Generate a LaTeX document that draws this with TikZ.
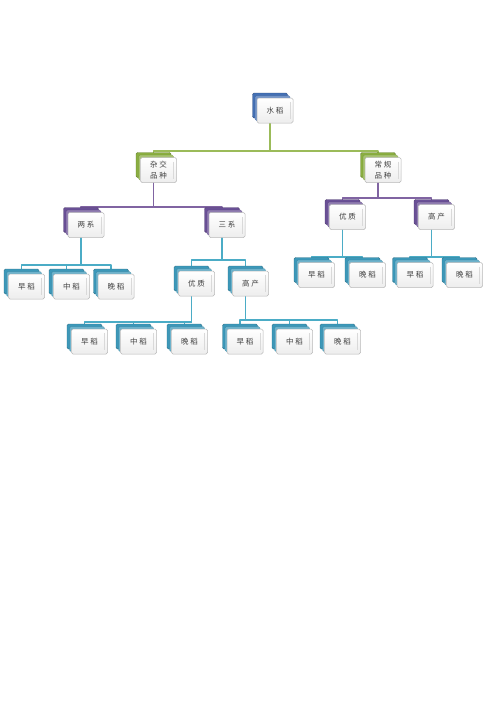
\documentclass[tikz,border=0pt]{standalone}
\usepackage{fontspec}
\newfontfamily\cjk{Noto Sans CJK SC}
\usetikzlibrary{backgrounds,calc}
\definecolor{cblue}{HTML}{4470B4}
\definecolor{cgreen}{HTML}{8AAE40}
\definecolor{cpurple}{HTML}{6A5096}
\definecolor{cteal}{HTML}{3C98B9}
\definecolor{lgreen}{HTML}{9BBB59}
\definecolor{lpurple}{HTML}{8064A2}
\definecolor{lteal}{HTML}{4BACC6}
\tikzset{
  front/.style={draw=gray!55, line width=0.5pt, rounded corners=1.5pt,
    top color=white, bottom color=gray!14, minimum width=36pt, minimum height=25pt,
    inner sep=0pt, font=\cjk\fontsize{7.5}{10.5}\selectfont, align=center, text=black!75,
    path picture={\draw[gray!30, line width=0.8pt]
      ([xshift=-3pt,yshift=-4pt]path picture bounding box.north east) --
      ([xshift=-3pt,yshift=4pt]path picture bounding box.south east);}},
  backbox/.style={fill=#1, draw=#1!75!black, line width=0.4pt, rounded corners=1.5pt,
    minimum width=35pt, minimum height=25pt, inner sep=0pt},
  midbox/.style={fill=#1!75!white, draw=#1!85!black, line width=0.3pt, rounded corners=1.5pt,
    minimum width=35pt, minimum height=25pt, inner sep=0pt},
  conn/.style={line width=1.2pt, draw=#1, line join=round},
}
\newcommand\onode[5]{%
  \node[backbox=#4] (#1b) at (#2-5,#3-5) {};
  \node[midbox=#4] (#1m) at (#2-2.5,#3-2.5) {};
  \node[front] (#1) at (#2,#3) {#5};}
\begin{document}
\begin{tikzpicture}[x=1pt,y=-1pt]
\useasboundingbox (0,0) rectangle (496,702);
% nodes
\onode{root}{275}{110.5}{cblue}{水\hspace{2pt}稻}
\onode{za}{158.5}{170}{cgreen}{杂\hspace{2pt}交\\品\hspace{2pt}种}
\onode{cg}{383}{170}{cgreen}{常\hspace{2pt}规\\品\hspace{2pt}种}
\onode{lx}{86}{225}{cpurple}{两\hspace{2pt}系}
\onode{sx}{227}{225}{cpurple}{三\hspace{2pt}系}
\onode{yzr}{347.5}{217}{cpurple}{优\hspace{2pt}质}
\onode{gcr}{436.5}{217}{cpurple}{高\hspace{2pt}产}
% leaves under 两系
\onode{a1}{26.5}{286.5}{cteal}{早\hspace{2pt}稻}
\onode{a2}{71.5}{286.5}{cteal}{中\hspace{2pt}稻}
\onode{a3}{116}{286.5}{cteal}{晚\hspace{2pt}稻}
% under 三系
\onode{yzl}{196.5}{283.5}{cteal}{优\hspace{2pt}质}
\onode{gcl}{250.5}{283.5}{cteal}{高\hspace{2pt}产}
% bottom row
\onode{b1}{89.5}{341.5}{cteal}{早\hspace{2pt}稻}
\onode{b2}{138.5}{341.5}{cteal}{中\hspace{2pt}稻}
\onode{b3}{189.5}{341.5}{cteal}{晚\hspace{2pt}稻}
\onode{c1}{245}{341.5}{cteal}{早\hspace{2pt}稻}
\onode{c2}{294.5}{341.5}{cteal}{中\hspace{2pt}稻}
\onode{c3}{342.5}{341.5}{cteal}{晚\hspace{2pt}稻}
% right leaves
\onode{d1}{316.5}{275}{cteal}{早\hspace{2pt}稻}
\onode{d2}{367.5}{275}{cteal}{晚\hspace{2pt}稻}
\onode{e1}{415}{275}{cteal}{早\hspace{2pt}稻}
\onode{e2}{464.5}{275}{cteal}{晚\hspace{2pt}稻}
% bus coordinates
\coordinate (bus0) at (0,151);
\coordinate (bus1) at (0,207);
\coordinate (bus2) at (0,198);
\coordinate (bus3) at (0,265);
\coordinate (bus4) at (0,260);
\coordinate (bus5) at (0,257);
\coordinate (bus7) at (0,322);
\coordinate (bus8) at (0,320);
\begin{scope}[on background layer]
\fill[white] (0,0) rectangle (496,702);
\foreach \c in {za,cg}
  \draw[conn=lgreen] (rootb.center) -- (rootb.center |- bus0) -| (\c b.center);
\foreach \c in {lx,sx}
  \draw[conn=lpurple] (zab.center) -- (zab.center |- bus1) -| (\c b.center);
\foreach \c in {yzr,gcr}
  \draw[conn=lpurple] (cgb.center) -- (cgb.center |- bus2) -| (\c b.center);
\foreach \c in {a1,a2,a3}
  \draw[conn=lteal] (lxb.center) -- (lxb.center |- bus3) -| (\c b.center);
\foreach \c in {yzl,gcl}
  \draw[conn=lteal] (sxb.center) -- (sxb.center |- bus4) -| (\c b.center);
\foreach \c in {d1,d2}
  \draw[conn=lteal] (yzrb.center) -- (yzrb.center |- bus5) -| (\c b.center);
\foreach \c in {e1,e2}
  \draw[conn=lteal] (gcrb.center) -- (gcrb.center |- bus5) -| (\c b.center);
\foreach \c in {b1,b2,b3}
  \draw[conn=lteal] (yzlb.center) -- (yzlb.center |- bus7) -| (\c b.center);
\foreach \c in {c1,c2,c3}
  \draw[conn=lteal] (gclb.center) -- (gclb.center |- bus8) -| (\c b.center);
\end{scope}
\end{tikzpicture}
\end{document}
